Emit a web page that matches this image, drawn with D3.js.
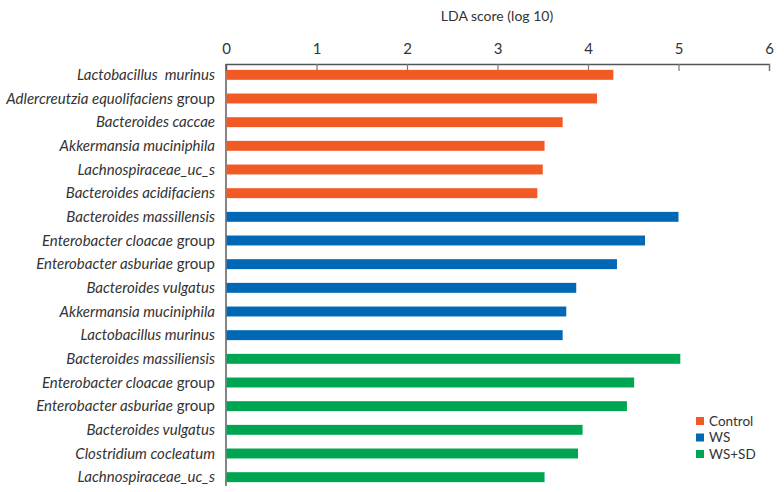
<!DOCTYPE html>
<html><head><meta charset="utf-8">
<script src="https://cdn.jsdelivr.net/npm/d3@7"></script>
<style>body{margin:0;background:#fff;} svg{display:block;}</style>
</head><body>
<svg id="c" width="784" height="492"></svg>
<script>
const groups = ["Control", "WS", "WS+SD"];
const colors = ["#F15A24", "#0068B4", "#00A551"];
const taxa = [
  "Lactobacillus  murinus", "Adlercreutzia equolifaciens", "Bacteroides caccae", "Akkermansia muciniphila", "Lachnospiraceae_uc_s", "Bacteroides acidifaciens",
  "Bacteroides massillensis", "Enterobacter cloacae", "Enterobacter asburiae", "Bacteroides vulgatus", "Akkermansia muciniphila", "Lactobacillus murinus",
  "Bacteroides massiliensis", "Enterobacter cloacae", "Enterobacter asburiae", "Bacteroides vulgatus", "Clostridium cocleatum", "Lachnospiraceae_uc_s"
];
const suffix = ["", " group", "", "", "", "", "", " group", " group", "", "", "", "", " group", " group", "", "", ""];
const taxonGroup = ["Control","Control","Control","Control","Control","Control","WS","WS","WS","WS","WS","WS","WS+SD","WS+SD","WS+SD","WS+SD","WS+SD","WS+SD"];
const lda = [4.28, 4.10, 3.72, 3.52, 3.50, 3.44, 5.00, 4.63, 4.32, 3.87, 3.76, 3.72, 5.02, 4.51, 4.43, 3.94, 3.89, 3.52];
const xTicks = [0, 1, 2, 3, 4, 5, 6];

const svg = d3.select("#c");
const font = "Lato, 'Open Sans', sans-serif";
const x = d3.scaleLinear().domain([0, 6]).range([226, 769]);
const idx = d3.range(taxa.length);
const y = d3.scaleBand().domain(idx).range([63, 489]).paddingInner(0.58).paddingOuter(0.29);
const color = d3.scaleOrdinal().domain(groups).range(colors);

// title
svg.append("text").attr("x", 497).attr("y", 21).attr("text-anchor", "middle")
  .attr("font-family", font).attr("font-size", 14).attr("fill", "#333").text("LDA score (log 10)");

// top axis
const ax = svg.append("g").attr("transform", "translate(0,64)")
  .call(d3.axisTop(x).tickValues(xTicks).tickSize(-7).tickPadding(10).tickFormat(d3.format("d")));
ax.select(".domain").attr("stroke", "#555").attr("stroke-width", 1.3);
ax.selectAll(".tick line").attr("stroke", "#777").attr("stroke-width", 1.2);
ax.selectAll(".tick text").attr("font-family", font).attr("font-size", 15).attr("fill", "#333");

// left vertical line
svg.append("line").attr("x1", x(0)).attr("x2", x(0)).attr("y1", 64).attr("y2", 486)
  .attr("stroke", "#444").attr("stroke-width", 1.3);

// bars
svg.append("g").selectAll("rect").data(idx).join("rect")
  .attr("x", x(0) + 0.5).attr("y", i => y(i))
  .attr("width", i => x(lda[i]) - x(0) - 0.5).attr("height", y.bandwidth())
  .attr("fill", i => color(taxonGroup[i]));

// labels
const lab = svg.append("g").selectAll("text").data(idx).join("text")
  .attr("x", 215).attr("y", i => y(i) + y.bandwidth() / 2).attr("dy", "0.35em")
  .attr("text-anchor", "end").attr("font-family", font).attr("font-size", 15).attr("fill", "#333")
  .style("white-space", "pre");
lab.append("tspan").attr("font-style", "italic").text(i => taxa[i]);
lab.append("tspan").text(i => suffix[i]);

// legend
const lg = svg.append("g").selectAll("g").data(groups).join("g")
  .attr("transform", (d, i) => `translate(696,${421 + i * 16.5})`);
lg.append("rect").attr("x", 0).attr("y", -4).attr("width", 8).attr("height", 8).attr("fill", d => color(d));
lg.append("text").attr("x", 13).attr("dy", "0.35em").attr("font-family", font).attr("font-size", 13.5)
  .attr("fill", "#333").text(d => d);
</script>
</body></html>
